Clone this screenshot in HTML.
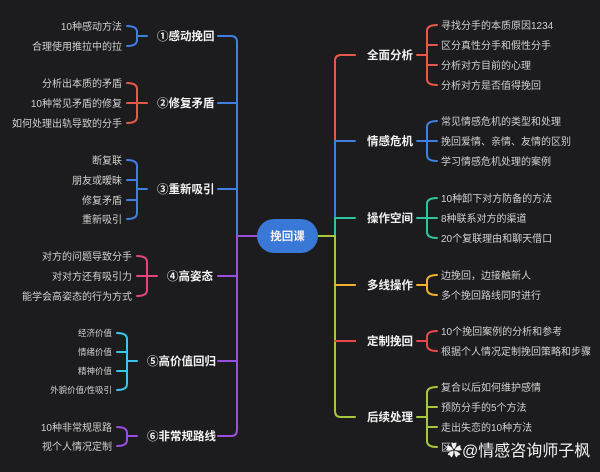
<!DOCTYPE html>
<html><head><meta charset="utf-8"><style>
body{margin:0;background:#1c1c1e}
svg{display:block}
text{font-family:"Liberation Sans","Noto Sans CJK SC",sans-serif}
.l{fill:#d0d0d0;font-size:10px}
.s{fill:#d0d0d0;font-size:8.5px}
.t{fill:#f2f2f2;font-size:11.5px;font-weight:bold}
path{fill:none;stroke-width:2;stroke-linecap:round}
</style></head><body>
<svg width="600" height="472" viewBox="0 0 600 472">
<rect width="600" height="472" fill="#1c1c1e"/>
<!-- left spine -->
<path d="M218,36 H231 Q237,36 237,42 V236" stroke="#3f7fe0"/>
<path d="M218,103 H237 M218,189 H237" stroke="#3f7fe0"/>
<path d="M237,236 V430 Q237,436 231,436 H218 M218,276 H237 M218,361 H237 M237,236 H258" stroke="#9a4fe0"/>
<!-- right spine -->
<path d="M355,55 H341 Q335,55 335,61 V141" stroke="#e8584a"/>
<path d="M335,141 V218 M335,141 H355" stroke="#3f7fe0"/>
<path d="M335,218 V236 M335,218 H355" stroke="#2ec4a0"/>
<path d="M318,236 H335 V411 Q335,417 341,417 H355 M335,285 H355 M335,341 H355" stroke="#a8c83c"/>
<path d="M335,285 H355" stroke="#f0b030"/>
<path d="M335,341 H355" stroke="#e8484a"/>
<!-- center -->
<rect x="257" y="219" width="61" height="34" rx="17" fill="#3a78d8"/>
<text x="287.5" y="240" text-anchor="middle" class="t" fill="#fff">挽回课</text>

<!-- left topics -->
<text x="157" y="40" class="t">①感动挽回</text>
<text x="157" y="107" class="t">②修复矛盾</text>
<text x="157" y="193" class="t">③重新吸引</text>
<text x="167" y="280" class="t">④高姿态</text>
<text x="147" y="365" class="t">⑤高价值回归</text>
<text x="147" y="440" class="t">⑥非常规路线</text>

<!-- ① -->
<path d="M127,26 Q137,26 137,32 V40 Q137,46 127,46 M137,36 H147" stroke="#3f7fe0"/>
<text x="122" y="30" text-anchor="end" class="l">10种感动方法</text>
<text x="122" y="50" text-anchor="end" class="l">合理使用推拉中的拉</text>
<!-- ② -->
<path d="M127,83 Q137,83 137,89 V117 Q137,123 127,123 M127,103 H147" stroke="#e8584a"/>
<text x="122" y="87" text-anchor="end" class="l">分析出本质的矛盾</text>
<text x="122" y="107" text-anchor="end" class="l">10种常见矛盾的修复</text>
<text x="122" y="127" text-anchor="end" class="l">如何处理出轨导致的分手</text>
<!-- ③ -->
<path d="M127,160 Q137,160 137,166 V213 Q137,219 127,219 M127,180 H137 M127,200 H137 M137,189 H147" stroke="#3f7fe0"/>
<text x="122" y="164" text-anchor="end" class="l">断复联</text>
<text x="122" y="184" text-anchor="end" class="l">朋友或暧昧</text>
<text x="122" y="204" text-anchor="end" class="l">修复矛盾</text>
<text x="122" y="223" text-anchor="end" class="l">重新吸引</text>
<!-- ④ -->
<path d="M137,256 Q147,256 147,262 V290 Q147,296 137,296 M137,276 H157" stroke="#e0457f"/>
<text x="132" y="260" text-anchor="end" class="l">对方的问题导致分手</text>
<text x="132" y="280" text-anchor="end" class="l">对对方还有吸引力</text>
<text x="132" y="300" text-anchor="end" class="l">能学会高姿态的行为方式</text>
<!-- ⑤ -->
<path d="M117,333 Q127,333 127,339 V384 Q127,390 117,390 M117,352 H127 M117,371 H127 M127,361 H137" stroke="#3ec4e8"/>
<text x="112" y="336" text-anchor="end" class="s">经济价值</text>
<text x="112" y="355" text-anchor="end" class="s">情绪价值</text>
<text x="112" y="374" text-anchor="end" class="s">精神价值</text>
<text x="112" y="393" text-anchor="end" class="s">外貌价值/性吸引</text>
<!-- ⑥ -->
<path d="M117,427 Q127,427 127,433 V440 Q127,446 117,446 M127,436 H137" stroke="#9a4fe0"/>
<text x="112" y="431" text-anchor="end" class="l">10种非常规思路</text>
<text x="112" y="450" text-anchor="end" class="l">视个人情况定制</text>

<!-- right topics -->
<text x="367" y="59" class="t">全面分析</text>
<text x="367" y="145" class="t">情感危机</text>
<text x="367" y="222" class="t">操作空间</text>
<text x="367" y="289" class="t">多线操作</text>
<text x="367" y="345" class="t">定制挽回</text>
<text x="367" y="421" class="t">后续处理</text>

<path d="M437,25 Q427,25 427,31 V79 Q427,85 437,85 M427,45 H437 M427,65 H437 M417,55 H427" stroke="#e8584a"/>
<text x="441" y="29" class="l">寻找分手的本质原因1234</text>
<text x="441" y="49" class="l">区分真性分手和假性分手</text>
<text x="441" y="69" class="l">分析对方目前的心理</text>
<text x="441" y="89" class="l">分析对方是否值得挽回</text>

<path d="M437,121 Q427,121 427,127 V155 Q427,161 437,161 M417,141 H437" stroke="#3f7fe0"/>
<text x="441" y="125" class="l">常见情感危机的类型和处理</text>
<text x="441" y="145" class="l">挽回爱情、亲情、友情的区别</text>
<text x="441" y="165" class="l">学习情感危机处理的案例</text>

<path d="M437,198 Q427,198 427,204 V232 Q427,238 437,238 M417,218 H437" stroke="#2ec4a0"/>
<text x="441" y="202" class="l">10种卸下对方防备的方法</text>
<text x="441" y="222" class="l">8种联系对方的渠道</text>
<text x="441" y="242" class="l">20个复联理由和聊天借口</text>

<path d="M437,275 Q427,275 427,281 V289 Q427,295 437,295 M417,285 H427" stroke="#f0b030"/>
<text x="441" y="279" class="l">边挽回，边接触新人</text>
<text x="441" y="299" class="l">多个挽回路线同时进行</text>

<path d="M437,331 Q427,331 427,337 V345 Q427,351 437,351 M417,341 H427" stroke="#e8484a"/>
<text x="441" y="335" class="l">10个挽回案例的分析和参考</text>
<text x="441" y="355" class="l">根据个人情况定制挽回策略和步骤</text>

<path d="M437,387 Q427,387 427,393 V441 Q427,447 437,447 M427,407 H437 M427,427 H437 M417,417 H427" stroke="#a8c83c"/>
<text x="441" y="391" class="l">复合以后如何维护感情</text>
<text x="441" y="411" class="l">预防分手的5个方法</text>
<text x="441" y="431" class="l">走出失恋的10种方法</text>
<text x="441" y="451" class="l">区</text>

<text x="446" y="456" fill="#f0f0f0" font-size="16" style="font-family:'Liberation Sans','Noto Sans CJK SC',sans-serif">✿@情感咨询师子枫</text>
</svg>
</body></html>
